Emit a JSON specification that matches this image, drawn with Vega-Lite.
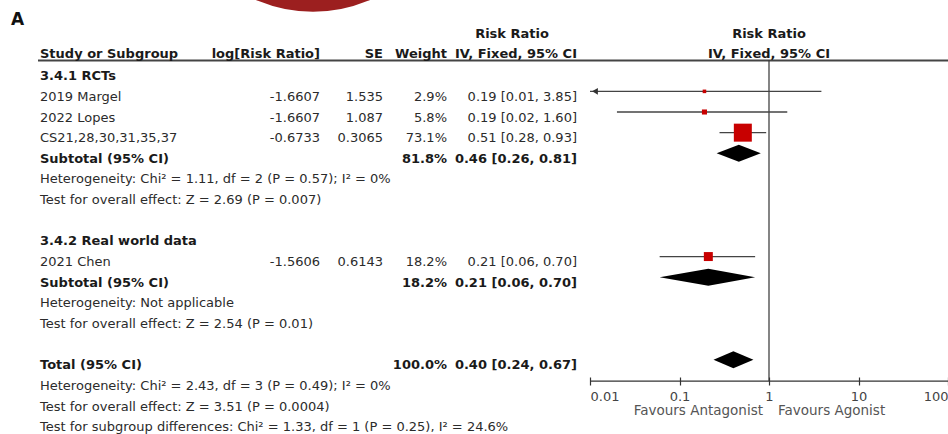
{
  "$schema": "https://vega.github.io/schema/vega-lite/v6.json",
  "width": 948,
  "height": 434,
  "autosize": {"type": "none"},
  "padding": 0,
  "background": "white",
  "config": {"view": {"stroke": null}},
  "datasets": {
    "table": [
      {"row": -1.099, "kind": "header", "label": "Study or Subgroup", "logrr": "log[Risk Ratio]", "se": "SE", "weight": "Weight", "ci": "IV, Fixed, 95% CI"},
      {"row": 0, "kind": "group", "label": "3.4.1 RCTs"},
      {"row": 1, "kind": "study", "label": "2019 Margel", "logrr": "-1.6607", "se": "1.535", "weight": "2.9%", "ci": "0.19 [0.01, 3.85]"},
      {"row": 2, "kind": "study", "label": "2022 Lopes", "logrr": "-1.6607", "se": "1.087", "weight": "5.8%", "ci": "0.19 [0.02, 1.60]"},
      {"row": 3, "kind": "study", "label": "CS21,28,30,31,35,37", "logrr": "-0.6733", "se": "0.3065", "weight": "73.1%", "ci": "0.51 [0.28, 0.93]"},
      {"row": 4, "kind": "subtotal", "label": "Subtotal (95% CI)", "weight": "81.8%", "ci": "0.46 [0.26, 0.81]"},
      {"row": 5, "kind": "note", "label": "Heterogeneity: Chi² = 1.11, df = 2 (P = 0.57); I² = 0%"},
      {"row": 6, "kind": "note", "label": "Test for overall effect: Z = 2.69 (P = 0.007)"},
      {"row": 8, "kind": "group", "label": "3.4.2 Real world data"},
      {"row": 9, "kind": "study", "label": "2021 Chen", "logrr": "-1.5606", "se": "0.6143", "weight": "18.2%", "ci": "0.21 [0.06, 0.70]"},
      {"row": 10, "kind": "subtotal", "label": "Subtotal (95% CI)", "weight": "18.2%", "ci": "0.21 [0.06, 0.70]"},
      {"row": 11, "kind": "note", "label": "Heterogeneity: Not applicable"},
      {"row": 12, "kind": "note", "label": "Test for overall effect: Z = 2.54 (P = 0.01)"},
      {"row": 14, "kind": "subtotal", "label": "Total (95% CI)", "weight": "100.0%", "ci": "0.40 [0.24, 0.67]"},
      {"row": 15, "kind": "note", "label": "Heterogeneity: Chi² = 2.43, df = 3 (P = 0.49); I² = 0%"},
      {"row": 16, "kind": "note", "label": "Test for overall effect: Z = 3.51 (P = 0.0004)"},
      {"row": 17, "kind": "note", "label": "Test for subgroup differences: Chi² = 1.33, df = 1 (P = 0.25), I² = 24.6%"}
    ],
    "forest": [
      {"row": 1, "rr": 0.19, "lo": 0.01, "hi": 3.85, "weight": 2.9},
      {"row": 2, "rr": 0.19, "lo": 0.02, "hi": 1.60, "weight": 5.8},
      {"row": 3, "rr": 0.51, "lo": 0.28, "hi": 0.93, "weight": 73.1},
      {"row": 9, "rr": 0.21, "lo": 0.06, "hi": 0.70, "weight": 18.2}
    ],
    "pooled": [
      {"id": "sub1", "row": 4, "rr": 0.46, "lo": 0.26, "hi": 0.81},
      {"id": "sub2", "row": 10, "rr": 0.21, "lo": 0.06, "hi": 0.70},
      {"id": "total", "row": 14, "rr": 0.40, "lo": 0.24, "hi": 0.67}
    ]
  },
  "layer": [
    {
      "data": {"values": [{}]},
      "mark": {"type": "point", "shape": "circle", "filled": true, "color": "#9c1f1f", "opacity": 1, "size": 82700, "strokeWidth": 0},
      "encoding": {"x": {"value": 313}, "y": {"value": -132}}
    },
    {
      "data": {"values": [{}]},
      "mark": {"type": "rule", "color": "#444444", "strokeWidth": 1.8},
      "encoding": {"x": {"value": 38}, "x2": {"value": 948}, "y": {"datum": -0.494, "type": "quantitative", "scale": {"domain": [-3.424, 17.593], "reverse": true, "nice": false, "zero": false}, "axis": null}}
    },
    {
      "data": {"values": [{}]},
      "mark": {"type": "rule", "color": "#333333", "strokeWidth": 1.2},
      "encoding": {
        "x": {"datum": 1, "type": "quantitative", "scale": {"type": "log", "domain": [0.01, 100], "range": [590, 948]},
          "axis": {"values": [0.01, 0.1, 1, 10, 100], "format": "~g", "domain": false, "grid": false, "title": null, "tickSize": 8, "tickColor": "#333333", "tickWidth": 1.2, "labelFont": "DejaVu Sans", "labelFontSize": 13, "labelColor": "#444444", "labelPadding": 5, "labelFlush": true, "offset": -57}},
        "y": {"datum": -0.494, "type": "quantitative", "scale": {"domain": [-3.424, 17.593], "reverse": true, "nice": false, "zero": false}, "axis": null},
        "y2": {"datum": 15.03}
      }
    },
    {
      "data": {"values": [{}]},
      "mark": {"type": "rule", "color": "#333333", "strokeWidth": 1.2},
      "encoding": {
        "x": {"datum": 0.01, "type": "quantitative", "scale": {"type": "log", "domain": [0.01, 100], "range": [590, 948]}},
        "x2": {"datum": 100},
        "y": {"datum": 15.03, "type": "quantitative", "scale": {"domain": [-3.424, 17.593], "reverse": true, "nice": false, "zero": false}, "axis": null}
      }
    },
    {
      "data": {"name": "forest"},
      "mark": {"type": "rule", "color": "#444444", "strokeWidth": 1.3},
      "encoding": {
        "x": {"field": "lo", "type": "quantitative", "scale": {"type": "log", "domain": [0.01, 100], "range": [590, 948]}},
        "x2": {"field": "hi"},
        "y": {"field": "row", "type": "quantitative", "scale": {"domain": [-3.424, 17.593], "reverse": true, "nice": false, "zero": false}, "axis": null}
      }
    },
    {
      "data": {"name": "forest"},
      "transform": [{"filter": "datum.lo <= 0.01"}],
      "mark": {"type": "point", "shape": "triangle-left", "filled": true, "color": "#333333", "opacity": 1, "size": 45, "xOffset": 5},
      "encoding": {
        "x": {"field": "lo", "type": "quantitative", "scale": {"type": "log", "domain": [0.01, 100], "range": [590, 948]}},
        "y": {"field": "row", "type": "quantitative", "scale": {"domain": [-3.424, 17.593], "reverse": true, "nice": false, "zero": false}, "axis": null}
      }
    },
    {
      "data": {"name": "forest"},
      "mark": {"type": "point", "shape": "square", "filled": true, "color": "#c80000", "opacity": 1, "strokeWidth": 0},
      "encoding": {
        "x": {"field": "rr", "type": "quantitative", "scale": {"type": "log", "domain": [0.01, 100], "range": [590, 948]}},
        "y": {"field": "row", "type": "quantitative", "scale": {"domain": [-3.424, 17.593], "reverse": true, "nice": false, "zero": false}, "axis": null},
        "size": {"field": "weight", "type": "quantitative", "scale": {"type": "linear", "domain": [0, 73.1], "range": [0, 324]}, "legend": null}
      }
    },
    {
      "data": {"name": "pooled"},
      "transform": [
        {"fold": ["lo", "rr", "hi"], "as": ["vertex", "ci"]},
        {"calculate": "datum.vertex == 'rr' ? datum.row - 0.41 : datum.row", "as": "top"},
        {"calculate": "datum.vertex == 'rr' ? datum.row + 0.41 : datum.row", "as": "bottom"}
      ],
      "mark": {"type": "area", "orient": "vertical", "color": "black", "opacity": 1},
      "encoding": {
        "x": {"field": "ci", "type": "quantitative", "scale": {"type": "log", "domain": [0.01, 100], "range": [590, 948]}},
        "y": {"field": "top", "type": "quantitative", "scale": {"domain": [-3.424, 17.593], "reverse": true, "nice": false, "zero": false}, "axis": null},
        "y2": {"field": "bottom"},
        "detail": {"field": "id"}
      }
    },
    {
      "data": {"name": "table"},
      "transform": [{"filter": "datum.kind == 'study' || datum.kind == 'note'"}],
      "mark": {"type": "text", "align": "left", "baseline": "alphabetic", "dy": 9.5, "font": "DejaVu Sans", "fontSize": 13, "color": "#2b2b2b"},
      "encoding": {"x": {"value": 40}, "y": {"field": "row", "type": "quantitative", "scale": {"domain": [-3.424, 17.593], "reverse": true, "nice": false, "zero": false}, "axis": null}, "text": {"field": "label"}}
    },
    {
      "data": {"name": "table"},
      "transform": [{"filter": "datum.kind == 'header' || datum.kind == 'group' || datum.kind == 'subtotal'"}],
      "mark": {"type": "text", "align": "left", "baseline": "alphabetic", "dy": 9.5, "font": "DejaVu Sans", "fontSize": 13, "fontWeight": "bold", "color": "#1a1a1a"},
      "encoding": {"x": {"value": 40}, "y": {"field": "row", "type": "quantitative", "scale": {"domain": [-3.424, 17.593], "reverse": true, "nice": false, "zero": false}, "axis": null}, "text": {"field": "label"}}
    },
    {
      "data": {"name": "table"},
      "transform": [{"filter": "datum.kind == 'study' && isValid(datum.logrr)"}],
      "mark": {"type": "text", "align": "right", "baseline": "alphabetic", "dy": 9.5, "font": "DejaVu Sans", "fontSize": 13, "color": "#2b2b2b"},
      "encoding": {"x": {"value": 320}, "y": {"field": "row", "type": "quantitative", "scale": {"domain": [-3.424, 17.593], "reverse": true, "nice": false, "zero": false}, "axis": null}, "text": {"field": "logrr"}}
    },
    {
      "data": {"name": "table"},
      "transform": [{"filter": "datum.kind == 'header' && isValid(datum.logrr)"}],
      "mark": {"type": "text", "align": "right", "baseline": "alphabetic", "dy": 9.5, "font": "DejaVu Sans", "fontSize": 13, "fontWeight": "bold", "color": "#1a1a1a"},
      "encoding": {"x": {"value": 320}, "y": {"field": "row", "type": "quantitative", "scale": {"domain": [-3.424, 17.593], "reverse": true, "nice": false, "zero": false}, "axis": null}, "text": {"field": "logrr"}}
    },
    {
      "data": {"name": "table"},
      "transform": [{"filter": "datum.kind == 'study' && isValid(datum.se)"}],
      "mark": {"type": "text", "align": "right", "baseline": "alphabetic", "dy": 9.5, "font": "DejaVu Sans", "fontSize": 13, "color": "#2b2b2b"},
      "encoding": {"x": {"value": 383}, "y": {"field": "row", "type": "quantitative", "scale": {"domain": [-3.424, 17.593], "reverse": true, "nice": false, "zero": false}, "axis": null}, "text": {"field": "se"}}
    },
    {
      "data": {"name": "table"},
      "transform": [{"filter": "datum.kind == 'header' && isValid(datum.se)"}],
      "mark": {"type": "text", "align": "right", "baseline": "alphabetic", "dy": 9.5, "font": "DejaVu Sans", "fontSize": 13, "fontWeight": "bold", "color": "#1a1a1a"},
      "encoding": {"x": {"value": 383}, "y": {"field": "row", "type": "quantitative", "scale": {"domain": [-3.424, 17.593], "reverse": true, "nice": false, "zero": false}, "axis": null}, "text": {"field": "se"}}
    },
    {
      "data": {"name": "table"},
      "transform": [{"filter": "datum.kind == 'study' && isValid(datum.weight)"}],
      "mark": {"type": "text", "align": "right", "baseline": "alphabetic", "dy": 9.5, "font": "DejaVu Sans", "fontSize": 13, "color": "#2b2b2b"},
      "encoding": {"x": {"value": 447}, "y": {"field": "row", "type": "quantitative", "scale": {"domain": [-3.424, 17.593], "reverse": true, "nice": false, "zero": false}, "axis": null}, "text": {"field": "weight"}}
    },
    {
      "data": {"name": "table"},
      "transform": [{"filter": "(datum.kind == 'header' || datum.kind == 'subtotal') && isValid(datum.weight)"}],
      "mark": {"type": "text", "align": "right", "baseline": "alphabetic", "dy": 9.5, "font": "DejaVu Sans", "fontSize": 13, "fontWeight": "bold", "color": "#1a1a1a"},
      "encoding": {"x": {"value": 447}, "y": {"field": "row", "type": "quantitative", "scale": {"domain": [-3.424, 17.593], "reverse": true, "nice": false, "zero": false}, "axis": null}, "text": {"field": "weight"}}
    },
    {
      "data": {"name": "table"},
      "transform": [{"filter": "datum.kind == 'study' && isValid(datum.ci)"}],
      "mark": {"type": "text", "align": "right", "baseline": "alphabetic", "dy": 9.5, "font": "DejaVu Sans", "fontSize": 13, "color": "#2b2b2b"},
      "encoding": {"x": {"value": 577}, "y": {"field": "row", "type": "quantitative", "scale": {"domain": [-3.424, 17.593], "reverse": true, "nice": false, "zero": false}, "axis": null}, "text": {"field": "ci"}}
    },
    {
      "data": {"name": "table"},
      "transform": [{"filter": "(datum.kind == 'header' || datum.kind == 'subtotal') && isValid(datum.ci)"}],
      "mark": {"type": "text", "align": "right", "baseline": "alphabetic", "dy": 9.5, "font": "DejaVu Sans", "fontSize": 13, "fontWeight": "bold", "color": "#1a1a1a"},
      "encoding": {"x": {"value": 577}, "y": {"field": "row", "type": "quantitative", "scale": {"domain": [-3.424, 17.593], "reverse": true, "nice": false, "zero": false}, "axis": null}, "text": {"field": "ci"}}
    },
    {
      "data": {"values": [{}]},
      "mark": {"type": "text", "align": "left", "baseline": "alphabetic", "dy": 9.5, "font": "DejaVu Sans", "fontSize": 17, "fontWeight": "bold", "color": "#111111"},
      "encoding": {"x": {"value": 11}, "y": {"datum": -2.65, "type": "quantitative", "scale": {"domain": [-3.424, 17.593], "reverse": true, "nice": false, "zero": false}, "axis": null}, "text": {"value": "A"}}
    },
    {
      "data": {"values": [{}]},
      "mark": {"type": "text", "align": "center", "baseline": "alphabetic", "dy": 9.5, "font": "DejaVu Sans", "fontSize": 13, "fontWeight": "bold", "color": "#1a1a1a"},
      "encoding": {"x": {"value": 512}, "y": {"datum": -2.068, "type": "quantitative", "scale": {"domain": [-3.424, 17.593], "reverse": true, "nice": false, "zero": false}, "axis": null}, "text": {"value": "Risk Ratio"}}
    },
    {
      "data": {"values": [{}]},
      "mark": {"type": "text", "align": "center", "baseline": "alphabetic", "dy": 9.5, "font": "DejaVu Sans", "fontSize": 13, "fontWeight": "bold", "color": "#1a1a1a"},
      "encoding": {"x": {"datum": 1, "type": "quantitative", "scale": {"type": "log", "domain": [0.01, 100], "range": [590, 948]}}, "y": {"datum": -2.068, "type": "quantitative", "scale": {"domain": [-3.424, 17.593], "reverse": true, "nice": false, "zero": false}, "axis": null}, "text": {"value": "Risk Ratio"}}
    },
    {
      "data": {"values": [{}]},
      "mark": {"type": "text", "align": "center", "baseline": "alphabetic", "dy": 9.5, "font": "DejaVu Sans", "fontSize": 13, "fontWeight": "bold", "color": "#1a1a1a"},
      "encoding": {"x": {"datum": 1, "type": "quantitative", "scale": {"type": "log", "domain": [0.01, 100], "range": [590, 948]}}, "y": {"datum": -1.099, "type": "quantitative", "scale": {"domain": [-3.424, 17.593], "reverse": true, "nice": false, "zero": false}, "axis": null}, "text": {"value": "IV, Fixed, 95% CI"}}
    },
    {
      "data": {"values": [{}]},
      "mark": {"type": "text", "align": "right", "baseline": "alphabetic", "dy": 9.5, "dx": -6, "font": "DejaVu Sans", "fontSize": 13.5, "color": "#555555"},
      "encoding": {"x": {"datum": 1, "type": "quantitative", "scale": {"type": "log", "domain": [0.01, 100], "range": [590, 948]}}, "y": {"datum": 16.23, "type": "quantitative", "scale": {"domain": [-3.424, 17.593], "reverse": true, "nice": false, "zero": false}, "axis": null}, "text": {"value": "Favours Antagonist"}}
    },
    {
      "data": {"values": [{}]},
      "mark": {"type": "text", "align": "left", "baseline": "alphabetic", "dy": 9.5, "dx": 9, "font": "DejaVu Sans", "fontSize": 13.5, "color": "#555555"},
      "encoding": {"x": {"datum": 1, "type": "quantitative", "scale": {"type": "log", "domain": [0.01, 100], "range": [590, 948]}}, "y": {"datum": 16.23, "type": "quantitative", "scale": {"domain": [-3.424, 17.593], "reverse": true, "nice": false, "zero": false}, "axis": null}, "text": {"value": "Favours Agonist"}}
    }
  ]
}
